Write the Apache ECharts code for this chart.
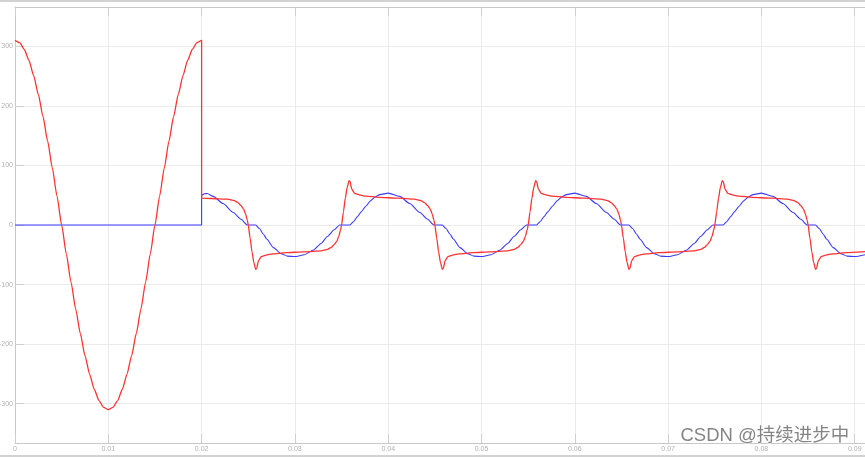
<!DOCTYPE html>
<html>
<head>
<meta charset="utf-8">
<script src="https://cdn.jsdelivr.net/npm/echarts@6/dist/echarts.min.js"></script>
<style>
html,body{margin:0;padding:0;background:#fff;}
#chart{width:865px;height:457px;}
</style>
</head>
<body>
<div id="chart"></div>
<script>
// ---- data ----
const xTicks = [0, 0.01, 0.02, 0.03, 0.04, 0.05, 0.06, 0.07, 0.08, 0.09];
const xTickLabels = ['0', '0.01', '0.02', '0.03', '0.04', '0.05', '0.06', '0.07', '0.08', '0.09'];
const yTicks = [-300, -200, -100, 0, 100, 200, 300];
const yTickLabels = ['-300', '-200', '-100', '0', '100', '200', '300'];

// red trace: first part (0 .. 0.02 s)
const redT1 = [0, 0.0005, 0.001, 0.0015, 0.002, 0.0025, 0.003, 0.0035, 0.004, 0.0045, 0.005,
  0.0055, 0.006, 0.0065, 0.007, 0.0075, 0.008, 0.0085, 0.009, 0.0095, 0.01,
  0.0105, 0.011, 0.0115, 0.012, 0.0125, 0.013, 0.0135, 0.014, 0.0145, 0.015,
  0.0155, 0.016, 0.0165, 0.017, 0.0175, 0.018, 0.0185, 0.019, 0.0195, 0.02];
const redV1 = [310, 306.2, 294.8, 276.2, 250.8, 219.2, 182.2, 140.7, 95.8, 48.5, 0,
  -48.5, -95.8, -140.7, -182.2, -219.2, -250.8, -276.2, -294.8, -306.2, -310,
  -306.2, -294.8, -276.2, -250.8, -219.2, -182.2, -140.7, -95.8, -48.5, 0,
  48.5, 95.8, 140.7, 182.2, 219.2, 250.8, 276.2, 294.8, 306.2, 310];

// red trace: second part (0.02 .. end)
const redT2 = [0.02, 0.021, 0.0228, 0.0235, 0.0239, 0.0242, 0.0245, 0.0247, 0.0249, 0.025,
  0.0252, 0.0254, 0.0256, 0.0258, 0.0259, 0.0261, 0.0264, 0.0269, 0.0276, 0.029, 0.031, 0.0328, 0.0335, 0.0339, 0.0342, 0.0345, 0.0347, 0.0349, 0.035,
  0.0352, 0.0354, 0.0356, 0.0358, 0.0359, 0.0361, 0.0364, 0.0369, 0.0376, 0.039, 0.041, 0.0428, 0.0435, 0.0439, 0.0442, 0.0445, 0.0447, 0.0449, 0.045,
  0.0452, 0.0454, 0.0456, 0.0458, 0.0459, 0.0461, 0.0464, 0.0469, 0.0476, 0.049, 0.051, 0.0528, 0.0535, 0.0539, 0.0542, 0.0545, 0.0547, 0.0549, 0.055,
  0.0552, 0.0554, 0.0556, 0.0558, 0.0559, 0.0561, 0.0564, 0.0569, 0.0576, 0.059, 0.061, 0.0628, 0.0635, 0.0639, 0.0642, 0.0645, 0.0647, 0.0649, 0.065,
  0.0652, 0.0654, 0.0656, 0.0658, 0.0659, 0.0661, 0.0664, 0.0669, 0.0676, 0.069, 0.071, 0.0728, 0.0735, 0.0739, 0.0742, 0.0745, 0.0747, 0.0749, 0.075,
  0.0752, 0.0754, 0.0756, 0.0758, 0.0759, 0.0761, 0.0764, 0.0769, 0.0776, 0.079, 0.081, 0.0828, 0.0835, 0.0839, 0.0842, 0.0845, 0.0847, 0.0849, 0.085,
  0.0852, 0.0854, 0.0856, 0.0858, 0.0859, 0.0861, 0.0864, 0.0869, 0.0876, 0.089, 0.0912];
const redV2 = [45, 44.5, 43.5, 41, 37.5, 33, 27, 19, 8, 0,
  -22, -45, -63, -74.5, -73, -60, -53, -50.5, -48.5, -46.5, -45, -43.5, -41, -37.5, -33, -27, -19, -8, 0,
  22, 45, 63, 74.5, 73, 60, 53, 50.5, 48.5, 46.5, 45, 43.5, 41, 37.5, 33, 27, 19, 8, 0,
  -22, -45, -63, -74.5, -73, -60, -53, -50.5, -48.5, -46.5, -45, -43.5, -41, -37.5, -33, -27, -19, -8, 0,
  22, 45, 63, 74.5, 73, 60, 53, 50.5, 48.5, 46.5, 45, 43.5, 41, 37.5, 33, 27, 19, 8, 0,
  -22, -45, -63, -74.5, -73, -60, -53, -50.5, -48.5, -46.5, -45, -43.5, -41, -37.5, -33, -27, -19, -8, 0,
  22, 45, 63, 74.5, 73, 60, 53, 50.5, 48.5, 46.5, 45, 43.5, 41, 37.5, 33, 27, 19, 8, 0,
  -22, -45, -63, -74.5, -73, -60, -53, -50.5, -48.5, -46.5, -44.5];

// blue trace
const blueT = [0, 0.02, 0.02, 0.0203, 0.0206, 0.02125, 0.0223, 0.0234, 0.0242, 0.0249, 0.0258, 0.0262, 0.0266, 0.027, 0.0277, 0.0285, 0.0292, 0.03,
  0.031, 0.032, 0.0328, 0.0335, 0.0342, 0.0348, 0.0359, 0.0363, 0.0367, 0.0371, 0.0376, 0.0381, 0.0386, 0.0391, 0.04,
  0.04125, 0.0423, 0.0434, 0.0442, 0.0449, 0.0458, 0.0462, 0.0466, 0.047, 0.0477, 0.0485, 0.0492, 0.05,
  0.051, 0.052, 0.0528, 0.0535, 0.0542, 0.0548, 0.0559, 0.0563, 0.0567, 0.0571, 0.0576, 0.0581, 0.0586, 0.0591, 0.06,
  0.06125, 0.0623, 0.0634, 0.0642, 0.0649, 0.0658, 0.0662, 0.0666, 0.067, 0.0677, 0.0685, 0.0692, 0.07,
  0.071, 0.072, 0.0728, 0.0735, 0.0742, 0.0748, 0.0759, 0.0763, 0.0767, 0.0771, 0.0776, 0.0781, 0.0786, 0.0791, 0.08,
  0.08125, 0.0823, 0.0834, 0.0842, 0.0849, 0.0858, 0.0862, 0.0866, 0.087, 0.0877, 0.0885, 0.0892, 0.09, 0.0912];
const blueV = [0, 0, 50, 52.5, 53, 48, 36, 21, 10, 0, 0, -6, -15, -24, -38, -48, -52.3, -53,
  -50, -42, -31, -19, -8, 0, 0, 6, 14, 22, 31.5, 40.5, 47, 51, 53.5,
  48, 36, 21, 10, 0, 0, -6, -15, -24, -38, -48, -52.3, -53,
  -50, -42, -31, -19, -8, 0, 0, 6, 14, 22, 31.5, 40.5, 47, 51, 53.5,
  48, 36, 21, 10, 0, 0, -6, -15, -24, -38, -48, -52.3, -53,
  -50, -42, -31, -19, -8, 0, 0, 6, 14, 22, 31.5, 40.5, 47, 51, 53.5,
  48, 36, 21, 10, 0, 0, -6, -15, -24, -38, -48, -52.3, -53, -49.5];

const redData = redT1.map((t, i) => [t, redV1[i]]).concat(redT2.map((t, i) => [t, redV2[i]]));
const blueData = blueT.map((t, i) => [t, blueV[i]]);

const chart = echarts.init(document.getElementById('chart'), null, {renderer: 'canvas'});
const axisCol = '#c8c8c8';
const tickCol = '#cfcfcf';
const gridCol = '#ebebeb';
const labelCol = '#b0b0b0';

const xLabelMap = {};
xTicks.forEach((v, i) => { xLabelMap[v] = xTickLabels[i]; });
const yLabelMap = {};
yTicks.forEach((v, i) => { yLabelMap[v] = yTickLabels[i]; });

chart.setOption({
  animation: false,
  backgroundColor: '#ffffff',
  grid: {left: 15, top: 7, right: 0, bottom: 14, containLabel: false, outerBoundsMode: 'none'},
  xAxis: [{
    type: 'value', min: 0, max: 0.0911, position: 'bottom',
    axisLine: {show: true, onZero: false, lineStyle: {color: axisCol, width: 1}},
    axisTick: {show: true, inside: true, length: 9, customValues: xTicks, lineStyle: {color: tickCol}},
    axisLabel: {show: true, customValues: xTicks, fontSize: 7, color: labelCol, margin: 3,
      fontFamily: 'Liberation Sans, Arial, sans-serif',
      formatter: v => (xLabelMap[v] !== undefined ? xLabelMap[v] : '')},
    splitLine: {show: true, lineStyle: {color: gridCol, width: 1}}
  }, {
    type: 'value', min: 0, max: 0.0911, position: 'top',
    axisLine: {show: true, onZero: false, lineStyle: {color: axisCol, width: 1}},
    axisTick: {show: true, inside: true, length: 9, customValues: xTicks, lineStyle: {color: tickCol}},
    axisLabel: {show: false},
    splitLine: {show: false}
  }],
  yAxis: [{
    type: 'value', min: -366, max: 366,
    axisLine: {show: true, onZero: false, lineStyle: {color: axisCol, width: 1}},
    axisTick: {show: true, inside: true, length: 9, customValues: yTicks, lineStyle: {color: tickCol}},
    axisLabel: {show: true, customValues: yTicks, fontSize: 7, color: labelCol, margin: 2,
      fontFamily: 'Liberation Sans, Arial, sans-serif',
      formatter: v => (yLabelMap[v] !== undefined ? yLabelMap[v] : '')},
    splitLine: {show: true, lineStyle: {color: gridCol, width: 1}}
  }],
  series: [{
    name: 'blue', type: 'line', xAxisIndex: 0, yAxisIndex: 0,
    data: blueData, showSymbol: false, symbol: 'none', smooth: 0.2, smoothMonotone: 'x',
    lineStyle: {color: '#3a3aff', width: 1.1}, z: 3
  }, {
    name: 'red', type: 'line', xAxisIndex: 0, yAxisIndex: 0,
    data: redData, showSymbol: false, symbol: 'none', smooth: 0.2, smoothMonotone: 'x',
    lineStyle: {color: '#ff3232', width: 1.3}, z: 4
  }],
  graphic: [
    {type: 'rect', left: 0, top: 0, shape: {width: 865, height: 2}, style: {fill: '#d2d2d2'}, silent: true},
    {type: 'rect', left: 0, top: 455, shape: {width: 865, height: 2}, style: {fill: '#d2d2d2'}, silent: true},
    {type: 'text', left: 680, top: 426, silent: true, z: 100,
      style: {text: 'CSDN @持续进步中', font: '18.5px "Liberation Sans", "Noto Sans CJK SC", sans-serif',
        fill: 'rgba(110,110,110,0.85)', stroke: 'rgba(255,255,255,0.8)', lineWidth: 1}}
  ]
});
</script>
</body>
</html>
